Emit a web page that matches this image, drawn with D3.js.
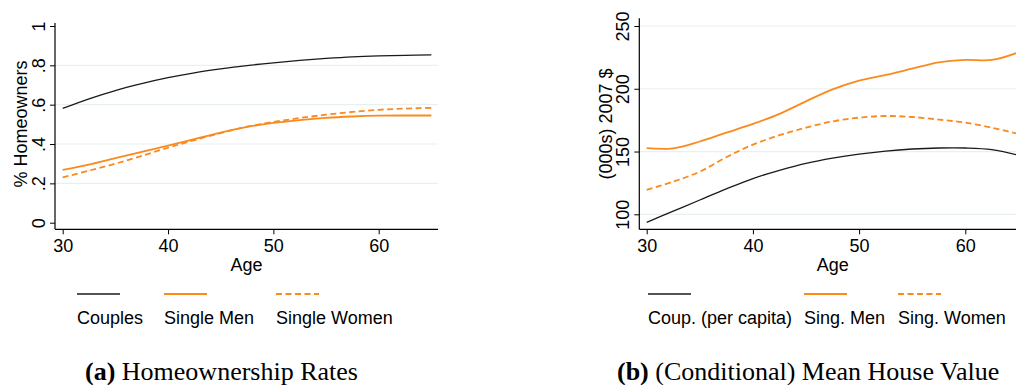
<!DOCTYPE html>
<html>
<head>
<meta charset="utf-8">
<script src="https://cdn.jsdelivr.net/npm/d3@7"></script>
<style>
  body { margin: 0; background: #fff; }
  text { font-family: "Liberation Sans", Arial, Helvetica, sans-serif; fill: #000; }
  .caption { font-family: "Liberation Serif", "Times New Roman", serif; }
</style>
</head>
<body>
<script>
const width = 1016, height = 385;

const ages = [30, 32.5, 35, 37.5, 40, 42.5, 45, 47.5, 50, 52.5, 55, 57.5, 60, 62.5, 65];

// panel (a): homeownership rates
const ownCouples = [0.581, 0.630, 0.672, 0.707, 0.737, 0.762, 0.782, 0.799, 0.813, 0.825, 0.835, 0.843, 0.848, 0.851, 0.853];
const ownMen     = [0.268, 0.295, 0.328, 0.360, 0.392, 0.425, 0.458, 0.487, 0.507, 0.522, 0.533, 0.540, 0.544, 0.545, 0.545];
const ownWomen   = [0.230, 0.265, 0.300, 0.340, 0.381, 0.420, 0.456, 0.488, 0.512, 0.532, 0.549, 0.563, 0.574, 0.580, 0.584];

// panel (b): mean house value, (000s) 2007 $
const valCouples = [93.6, 102.5, 111.4, 120.2, 128.5, 135.0, 140.6, 144.8, 148.0, 150.4, 152.0, 152.8, 152.8, 151.5, 147.0];
const valMen     = [152.7, 152.6, 158.0, 165.0, 172.0, 180.0, 190.0, 199.5, 206.5, 211.0, 216.0, 221.0, 223.0, 223.0, 229.0];
const valWomen   = [119.5, 126.0, 134.0, 145.5, 155.5, 163.0, 169.0, 174.0, 177.0, 178.3, 177.5, 175.5, 173.0, 169.0, 164.0];

const xTicks = [30, 40, 50, 60];
const ownTicks = [0, 0.2, 0.4, 0.6, 0.8, 1];
const ownTickLabels = ["0", ".2", ".4", ".6", ".8", "1"];
const valTicks = [100, 150, 200, 250];

const legendA = ["Couples", "Single Men", "Single Women"];
const legendB = ["Coup. (per capita)", "Sing. Men", "Sing. Women"];

const black = "#1a1a1a";
const orange = "#fb8a1e";
const gridColor = "#e8f0f1";

const svg = d3.select("body").append("svg")
    .attr("width", width)
    .attr("height", height);

svg.append("rect").attr("width", width).attr("height", height).attr("fill", "#fff");

const panels = [
    {
        left: 55, right: 438, top: 23, bottom: 229.3,
        x: d3.scaleLinear().domain([30, 60]).range([62.7, 378.7]),
        y: d3.scaleLinear().domain([0, 1]).range([222.7, 26]),
        ticks: ownTicks, tickFormat: (d, i) => ownTickLabels[i],
        grid: [0.2, 0.4, 0.6, 0.8],
        title: "% Homeowners", titleX: 27, ageX: 246.5,
        series: [ownCouples, ownMen, ownWomen],
        legend: legendA, legendX: [77, 164, 276],
        caption: ["(a)", " Homeownership Rates"], captionX: 85
    },
    {
        left: 639.3, right: 1026, top: 18.3, bottom: 229.3,
        x: d3.scaleLinear().domain([30, 60]).range([646.7, 965.3]),
        y: d3.scaleLinear().domain([100, 250]).range([214.3, 26]),
        ticks: valTicks, tickFormat: d => d,
        grid: valTicks,
        title: "(000s) 2007 $", titleX: 612, ageX: 832.7,
        series: [valCouples, valMen, valWomen],
        legend: legendB, legendX: [648, 804, 898],
        caption: ["(b)", " (Conditional) Mean House Value"], captionX: 617
    }
];

const styles = [
    { color: black, width: 1.3, dash: null },
    { color: orange, width: 1.8, dash: null },
    { color: orange, width: 1.8, dash: "6,3.5" }
];

panels.forEach(p => {
    const g = svg.append("g");

    // gridlines
    g.selectAll(".grid")
        .data(p.grid)
        .enter()
        .append("line")
        .attr("x1", p.left)
        .attr("x2", p.right)
        .attr("y1", d => p.y(d))
        .attr("y2", d => p.y(d))
        .attr("stroke", gridColor)
        .attr("stroke-width", 1.2);

    // y axis
    const yAxis = g.append("g")
        .attr("transform", `translate(${p.left},0)`)
        .call(d3.axisLeft(p.y).tickValues(p.ticks).tickFormat(p.tickFormat).tickSize(5).tickSizeOuter(0));
    yAxis.select(".domain").remove();
    yAxis.selectAll("line").attr("stroke", "#000");
    yAxis.selectAll("text")
        .attr("transform", "rotate(-90)")
        .attr("x", 0)
        .attr("y", -10)
        .attr("dy", 0)
        .attr("text-anchor", "middle")
        .attr("font-size", "18px")
        .attr("font-family", null);
    g.append("line")
        .attr("x1", p.left).attr("x2", p.left)
        .attr("y1", p.top).attr("y2", p.bottom)
        .attr("stroke", "#000").attr("stroke-width", 1.2);

    // x axis
    const xAxis = g.append("g")
        .attr("transform", `translate(0,${p.bottom})`)
        .call(d3.axisBottom(p.x).tickValues(xTicks).tickSize(5).tickSizeOuter(0));
    xAxis.select(".domain").remove();
    xAxis.selectAll("line").attr("stroke", "#000");
    xAxis.selectAll("text")
        .attr("y", 10)
        .attr("font-size", "18px")
        .attr("font-family", null);
    g.append("line")
        .attr("x1", p.left).attr("x2", p.right)
        .attr("y1", p.bottom).attr("y2", p.bottom)
        .attr("stroke", "#000").attr("stroke-width", 1.2);

    // axis titles
    g.append("text")
        .attr("transform", `translate(${p.titleX},124) rotate(-90)`)
        .attr("text-anchor", "middle")
        .attr("font-size", "18px")
        .text(p.title);
    g.append("text")
        .attr("x", p.ageX)
        .attr("y", 271)
        .attr("text-anchor", "middle")
        .attr("font-size", "18px")
        .text("Age");

    // curves
    const line = d3.line()
        .x((d, i) => p.x(ages[i]))
        .y(d => p.y(d))
        .curve(d3.curveCatmullRom.alpha(0.5));

    g.selectAll(".series")
        .data(p.series)
        .enter()
        .append("path")
        .attr("d", d => line(d))
        .attr("fill", "none")
        .attr("stroke", (d, i) => styles[i].color)
        .attr("stroke-width", (d, i) => styles[i].width)
        .attr("stroke-dasharray", (d, i) => styles[i].dash);

    // legend
    p.legend.forEach((name, i) => {
        g.append("line")
            .attr("x1", p.legendX[i]).attr("x2", p.legendX[i] + 43)
            .attr("y1", 294).attr("y2", 294)
            .attr("stroke", styles[i].color)
            .attr("stroke-width", styles[i].width)
            .attr("stroke-dasharray", styles[i].dash);
        g.append("text")
            .attr("x", p.legendX[i])
            .attr("y", 324)
            .attr("font-size", "18px")
            .text(name);
    });

    // caption
    const cap = g.append("text")
        .attr("class", "caption")
        .attr("x", p.captionX)
        .attr("y", 380)
        .attr("font-size", "26px");
    cap.append("tspan").attr("font-weight", "bold").text(p.caption[0]);
    cap.append("tspan").text(p.caption[1]);
});
</script>
</body>
</html>
